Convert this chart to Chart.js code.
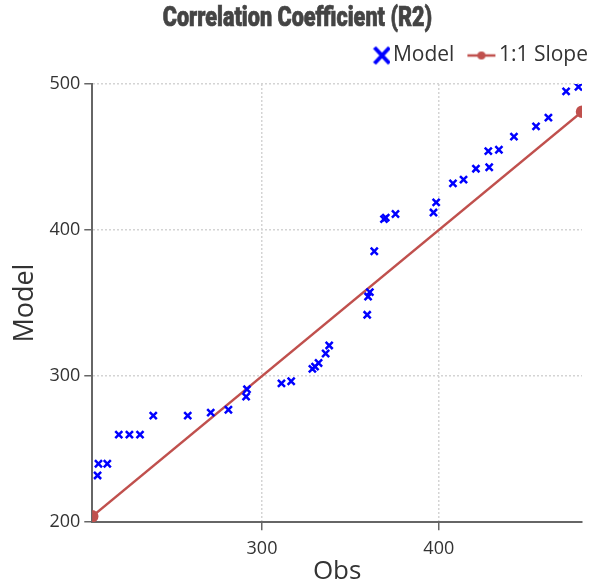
<!DOCTYPE html>
<html>
<head>
<meta charset="utf-8">
<script src="https://cdn.jsdelivr.net/npm/chart.js@4.4.1/dist/chart.umd.min.js"></script>
<style>
  html, body { margin: 0; padding: 0; background: #fff; overflow: hidden; }
  #wrap { width: 590px; height: 588px; overflow: hidden; }
</style>
</head>
<body>
<div id="wrap"><canvas id="r2Chart" width="590" height="591"></canvas></div>
<script>
// ===================== Data =====================
const obsValues = [207, 207.5, 212.5, 219, 225, 231, 238.5, 258, 271, 281, 291, 291.5,
  311, 316.5, 328.5, 330, 332, 336, 338, 359.5, 360, 361, 363.5, 369, 370, 375.5,
  397, 398.5, 408, 414, 421, 428.5, 428, 434, 442.5, 455, 462, 472, 479];
const modelValues = [232, 240, 240, 260, 260, 260, 273, 273, 275, 277, 286, 291,
  295, 296.5, 305, 306.5, 309, 315.5, 321, 342, 354.5, 357.5, 385.5, 407.5, 408.5, 411,
  412, 419, 432, 434.5, 442, 443, 454, 455, 464, 471, 477, 495, 498];
const slopeEnds = [204, 481];
const xRange = [204, 481];
const yRange = [200, 500];
const xTicks = [300, 400];
const yTicks = [200, 300, 400, 500];

const BLUE = '#0000ff';
const RED = '#c0504d';
const AXIS = '#666';
const GRID = '#d4d4d4';
const TEXT = '#333';

// ===================== Legend icons =====================
function makeIcon(draw) {
    const c = document.createElement('canvas');
    c.width = 48;
    c.height = 22;
    draw(c.getContext('2d'));
    return c;
}

const modelIcon = makeIcon(g => {
    g.strokeStyle = BLUE;
    g.lineWidth = 4;
    g.beginPath();
    g.moveTo(32, 3); g.lineTo(47, 19);
    g.moveTo(47, 3); g.lineTo(32, 19);
    g.stroke();
});

const slopeIcon = makeIcon(g => {
    g.strokeStyle = RED;
    g.lineWidth = 2.5;
    g.beginPath();
    g.moveTo(19, 11); g.lineTo(47, 11);
    g.stroke();
    g.fillStyle = RED;
    g.beginPath();
    g.arc(33, 11, 4, 0, Math.PI * 2);
    g.fill();
});

const legendIcons = [modelIcon, slopeIcon];

// ===================== Plugins =====================
// heavy, narrow heading drawn straight on the canvas
const condensedTitle = {
    id: 'condensedTitle',
    afterDraw(chart, args, opts) {
        const ctx = chart.ctx;
        const padLeft = chart.options.layout.padding.left || 0;
        ctx.save();
        ctx.font = `${opts.weight} ${opts.size}px ${opts.family}`;
        ctx.fillStyle = opts.color;
        ctx.strokeStyle = opts.color;
        ctx.lineWidth = 0.7;
        ctx.textAlign = 'center';
        ctx.textBaseline = 'middle';
        ctx.translate((padLeft + chart.width) / 2, opts.y);
        ctx.scale(opts.stretch, 1);
        ctx.fillText(opts.text, 0, 0);
        ctx.strokeText(opts.text, 0, 0);
        ctx.restore();
    }
};

// extra room between legend and plot
const legendMargin = {
    id: 'legendMargin',
    beforeInit(chart) {
        const fit = chart.legend.fit;
        chart.legend.fit = function () {
            fit.bind(chart.legend)();
            this.height += 8;
        };
    }
};

// ===================== Chart =====================
function setupChart() {
    const ctx = document.getElementById('r2Chart').getContext('2d');

    new Chart(ctx, {
        type: 'scatter',
        data: {
            datasets: [{
                label: 'Model',
                data: obsValues.map((x, i) => ({ x: x, y: modelValues[i] })),
                pointStyle: 'crossRot',
                pointRadius: 5,
                pointBorderWidth: 2.5,
                borderColor: BLUE,
                backgroundColor: BLUE,
                showLine: false
            }, {
                label: '1:1 Slope',
                data: slopeEnds.map(v => ({ x: v, y: v })),
                showLine: true,
                borderColor: RED,
                backgroundColor: RED,
                borderWidth: 2.5,
                pointRadius: 5,
                pointStyle: 'circle'
            }]
        },
        plugins: [condensedTitle, legendMargin],
        options: {
            responsive: false,
            animation: false,
            layout: { padding: { left: 5, right: 0, top: 43, bottom: 0 } },
            plugins: {
                condensedTitle: {
                    text: 'Correlation Coefficient (R2)',
                    family: 'Roboto',
                    weight: 900,
                    size: 27,
                    stretch: 0.8,
                    color: '#444',
                    y: 19
                },
                title: { display: false },
                legend: {
                    align: 'end',
                    labels: {
                        usePointStyle: true,
                        pointStyleWidth: 32,
                        padding: 2,
                        color: TEXT,
                        font: { family: 'Open Sans', size: 21 },
                        generateLabels: chart => {
                            const items = Chart.defaults.plugins.legend.labels.generateLabels(chart);
                            items.forEach((item, i) => { item.pointStyle = legendIcons[i]; });
                            return items;
                        }
                    }
                },
                tooltip: { enabled: false }
            },
            scales: {
                x: {
                    type: 'linear',
                    min: xRange[0],
                    max: xRange[1],
                    afterBuildTicks: axis => { axis.ticks = xTicks.map(v => ({ value: v })); },
                    afterFit: axis => { axis.paddingRight = 8; },
                    grid: { color: GRID, lineWidth: 1.5, tickColor: AXIS, tickLength: 8, tickWidth: 1.5 },
                    border: { color: AXIS, width: 2, dash: [2, 2] },
                    ticks: { color: TEXT, font: { family: 'Open Sans', size: 18 }, padding: 8 },
                    title: {
                        display: true,
                        text: 'Obs',
                        color: TEXT,
                        font: { family: 'Open Sans', size: 26 },
                        padding: { top: -12, bottom: 4 }
                    }
                },
                y: {
                    type: 'linear',
                    min: yRange[0],
                    max: yRange[1],
                    afterBuildTicks: axis => { axis.ticks = yTicks.map(v => ({ value: v })); },
                    grid: {
                        color: c => (c.tick && c.tick.value === yRange[0]) ? 'rgba(0,0,0,0)' : GRID,
                        lineWidth: 1.5, tickColor: AXIS, tickLength: 8, tickWidth: 1.5
                    },
                    border: { color: AXIS, width: 2, dash: [2, 2] },
                    ticks: { color: TEXT, font: { family: 'Open Sans', size: 18 }, padding: 4 },
                    title: {
                        display: true,
                        text: 'Model',
                        color: TEXT,
                        font: { family: 'Open Sans', size: 27 },
                        padding: { top: 4, bottom: 4 }
                    }
                }
            }
        }
    });
}

document.addEventListener('DOMContentLoaded', setupChart);
</script>
</body>
</html>
